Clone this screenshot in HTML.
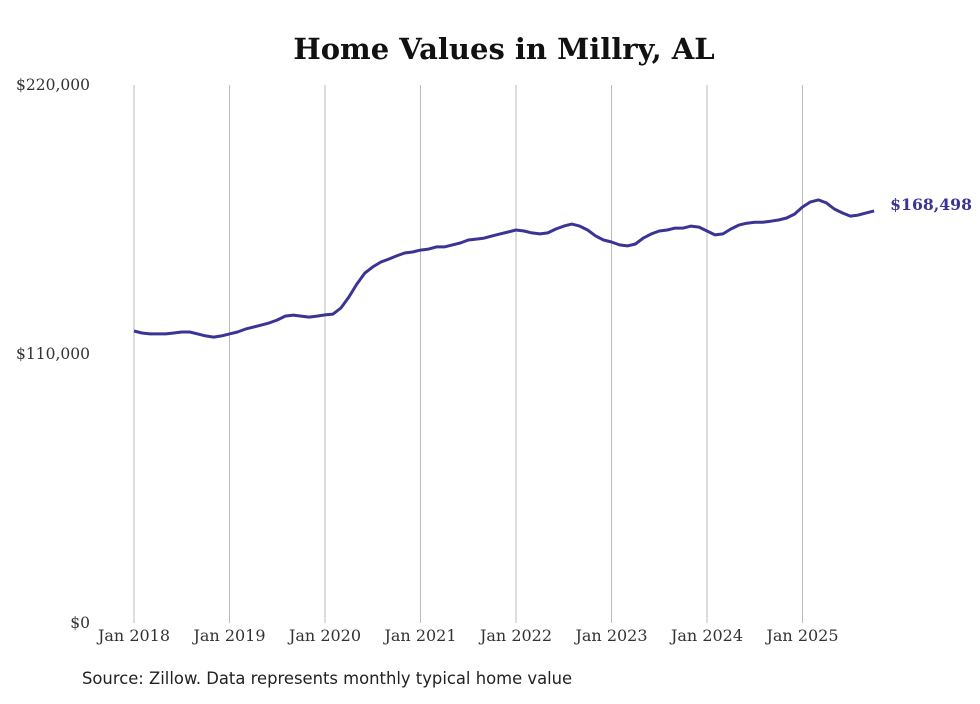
<!DOCTYPE html>
<html><head><meta charset="utf-8"><style>
body{margin:0;background:#fff;}
svg text{font-family:"DejaVu Serif","Liberation Serif",serif;}
</style></head><body>
<svg width="980" height="699" viewBox="0 0 980 699">
<text x="504" y="59" text-anchor="middle" font-size="29" font-weight="bold" fill="#111">Home Values in Millry, AL</text>
<g id="grid"></g><g id="yticks"></g><g id="xticks"></g>
<path id="line" fill="none" stroke="#3a3494" stroke-width="3" stroke-linejoin="round"/>
<text id="endlabel" font-size="15.7" font-weight="bold" fill="#3a3494"></text>
<text x="82" y="684" font-size="16.4" fill="#222" style="font-family:'DejaVu Sans','Liberation Sans',sans-serif">Source: Zillow. Data represents monthly typical home value</text>
</svg>
<script>
const xLabels=["Jan 2018","Jan 2019","Jan 2020","Jan 2021","Jan 2022","Jan 2023","Jan 2024","Jan 2025"];
const yTicks=[0,110000,220000];
const yTickLabels=["$0","$110,000","$220,000"];
const values=[119400,118600,118200,118200,118200,118600,119000,119000,118200,117400,116900,117400,
118200,119000,120200,121000,121800,122700,123900,125500,125900,125500,125100,125500,
126000,126300,128800,133300,138600,143100,145600,147600,148800,150100,151300,151700,
152500,152900,153800,153800,154600,155400,156600,157000,157400,158300,159100,159900,
160700,160300,159500,159100,159500,161100,162300,163100,162300,160700,158300,156600,
155800,154600,154200,155000,157400,159100,160300,160700,161500,161500,162300,161900,
160300,158700,159100,161100,162700,163500,163900,163900,164300,164800,165600,167200,
170100,172200,173000,171800,169300,167700,166400,166800,167700,168498];
const lastLabel="$168,498";
const ns="http://www.w3.org/2000/svg";
const x0=134,pxYear=95.5,yBase=623,yTop=85,yMax=220000;
const X=i=>x0+i*pxYear/12;
const Y=v=>yBase-(v/yMax)*(yBase-yTop);
function mk(tag,attrs,parent){const e=document.createElementNS(ns,tag);for(const k in attrs)e.setAttribute(k,attrs[k]);document.getElementById(parent).appendChild(e);return e;}
xLabels.forEach((l,i)=>{
  const x=X(i*12);
  const g=mk("line",{x1:x,x2:x,y1:yTop,y2:yBase,stroke:"#bbb","stroke-width":1},"grid");
  
  
  const t=mk("text",{x:x,y:641,"text-anchor":"middle","font-size":16,fill:"#333"},"xticks");
  t.textContent=l;
  
  
});
yTicks.forEach((v,i)=>{
  const t=mk("text",{x:90,y:Y(v)+5,"text-anchor":"end","font-size":15.5,fill:"#333"},"yticks");
  t.textContent=yTickLabels[i];
  
  
});
document.getElementById("line").setAttribute("d",values.map((v,i)=>(i?"L":"M")+X(i).toFixed(1)+","+Y(v).toFixed(1)).join(""));
const el=document.getElementById("endlabel");
el.setAttribute("x",X(values.length-1)+16);
el.setAttribute("y",Y(values[values.length-1])-1);
el.textContent=lastLabel;
</script>
</body></html>
